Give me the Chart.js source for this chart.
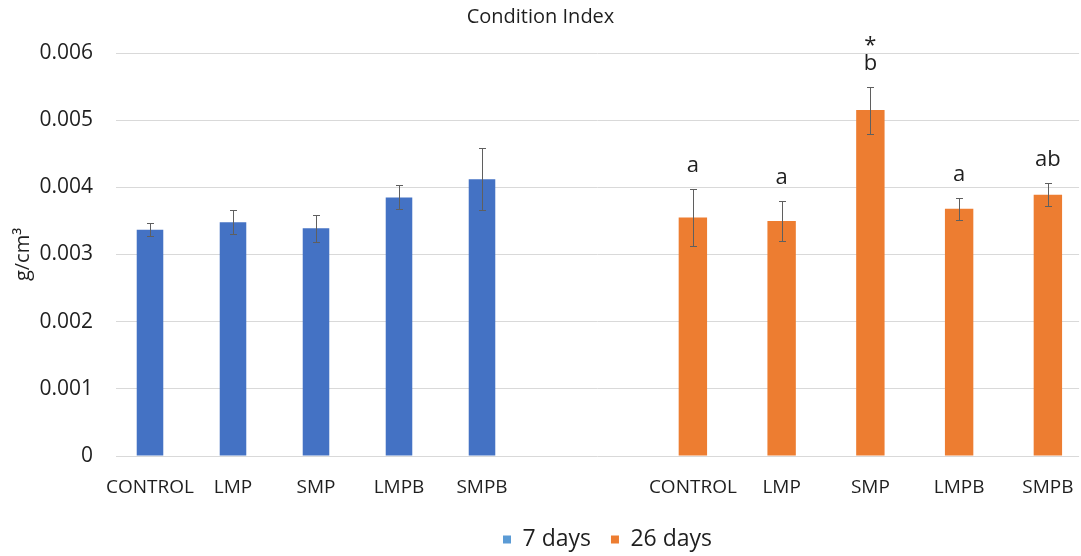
<!DOCTYPE html>
<html>
<head>
<meta charset="utf-8">
<title>Condition Index</title>
<script src="https://cdn.jsdelivr.net/npm/chart.js@4.4.1/dist/chart.umd.min.js"></script>
<style>
  html, body { margin: 0; padding: 0; background: #fff; }
  #wrap { width: 1081px; height: 556px; }
</style>
</head>
<body>
<div id="wrap"><canvas id="myChart"></canvas></div>
<script>
'use strict';

const treatments = ['CONTROL', 'LMP', 'SMP', 'LMPB', 'SMPB'];

const days7 = [0.00337, 0.00348, 0.00339, 0.00385, 0.00412];
const days7Err = [0.00010, 0.00018, 0.00020, 0.00018, 0.00046];

const days26 = [0.00355, 0.00350, 0.00515, 0.00368, 0.00389];
const days26Err = [0.00043, 0.00030, 0.00035, 0.00016, 0.00017];
const days26Letters = [['a'], ['a'], ['*', 'b'], ['a'], ['ab']];

const yTicks = [0, 0.001, 0.002, 0.003, 0.004, 0.005, 0.006];

const FONT = "'Open Sans', sans-serif";
const TEXT = '#1f1f1f';

// each group sits on its own category axis, the 26-day one leaves a gap slot
const blanks = (n) => Array(n).fill('');
const nulls = (n) => Array(n).fill(null);

const labels7 = treatments.concat(blanks(7));
const labels26 = blanks(6).concat(treatments);

// category widths of the two groups (the 7-day group is packed tighter)
const SLOT7 = 83;
const SLOT26 = 88.75;

// both x axes share one label row; stretch each to its own category width
const groupAxes = {
  id: 'groupAxes',
  afterLayout(chart) {
    const left = chart.chartArea.left;
    const fit = (s, start, slot) => {
      s.left = start;
      s.right = start + slot * s.getLabels().length;
      s.width = s.right - s.left;
      s.bottom = s.top + 60;
      s.height = 60;
      s.configure();
    };
    fit(chart.scales.x7, left - 7.5, SLOT7);
    fit(chart.scales.x, left, SLOT26);
    // legend sits a little right of centre and low
    const lg = chart.legend;
    lg.left += 10;
    lg.right += 10;
    lg.top += 4;
    lg.bottom += 4;
  }
};

// whiskers plus the significance letters above them
const errorBars = {
  id: 'errorBars',
  afterDatasetsDraw(chart) {
    const ctx = chart.ctx;
    const yScale = chart.scales.y;
    ctx.save();
    chart.data.datasets.forEach((ds, di) => {
      const meta = chart.getDatasetMeta(di);
      meta.data.forEach((bar, i) => {
        const v = ds.data[i];
        if (v == null) return;
        const e = ds.errors[i];
        const top = Math.round(yScale.getPixelForValue(v + e)) + 0.5;
        const bot = Math.round(yScale.getPixelForValue(v - e)) + 0.5;
        const x = Math.round(bar.x) + 0.5;
        ctx.strokeStyle = '#5f5f5f';
        ctx.lineWidth = 1;
        ctx.beginPath();
        ctx.moveTo(x, top); ctx.lineTo(x, bot);
        ctx.moveTo(x - 3.5, top); ctx.lineTo(x + 3.5, top);
        ctx.moveTo(x - 3.5, bot); ctx.lineTo(x + 3.5, bot);
        ctx.stroke();

        const letters = ds.letters && ds.letters[i];
        if (letters) {
          ctx.fillStyle = TEXT;
          ctx.font = '22px ' + FONT;
          ctx.textAlign = 'center';
          ctx.textBaseline = 'alphabetic';
          let y = top - 18;
          for (let k = letters.length - 1; k >= 0; k--) {
            ctx.fillText(letters[k], bar.x, y + (letters[k] === '*' ? 4 : 0));
            y -= 22;
          }
        }
      });
    });
    ctx.restore();
  }
};

const legendColors = ['#5b9bd5', '#ed7d31'];

const xTicks = {
  autoSkip: false, maxRotation: 0, minRotation: 0, padding: 20,
  color: TEXT, font: { family: FONT, size: 19 },
};

new Chart(document.getElementById('myChart'), {
  type: 'bar',
  data: {
    datasets: [
      {
        label: '7 days',
        data: days7.concat(nulls(7)),
        errors: days7Err.concat(nulls(7)),
        xAxisID: 'x7',
        grouped: false,
        backgroundColor: '#4472c4',
        barPercentage: 0.32,
        categoryPercentage: 1,
      },
      {
        label: '26 days',
        data: nulls(6).concat(days26),
        errors: nulls(6).concat(days26Err),
        letters: nulls(6).concat(days26Letters),
        xAxisID: 'x',
        grouped: false,
        backgroundColor: '#ed7d31',
        barPercentage: 0.32,
        categoryPercentage: 1,
      },
    ],
  },
  options: {
    responsive: true,
    maintainAspectRatio: false,
    animation: false,
    layout: { padding: { left: -12, right: -12, top: 0, bottom: 0 } },
    plugins: {
      title: {
        display: true,
        text: 'Condition Index',
        color: TEXT,
        font: { family: FONT, size: 20, weight: 'normal' },
        padding: { top: 5, bottom: 24 },
      },
      legend: {
        position: 'bottom',
        fullSize: false,
        maxHeight: 52,
        labels: {
          color: TEXT,
          font: { family: FONT, size: 23 },
          boxWidth: 8,
          boxHeight: 8,
          padding: 20,
          generateLabels(chart) {
            return Chart.defaults.plugins.legend.labels.generateLabels(chart).map((item, i) => {
              item.fillStyle = legendColors[i];
              item.strokeStyle = legendColors[i];
              item.lineWidth = 0;
              return item;
            });
          },
        },
      },
      tooltip: { enabled: false },
    },
    scales: {
      x7: {
        axis: 'x',
        type: 'category',
        labels: labels7,
        position: 'bottom',
        weight: 0,
        afterFit(axis) { axis.height = 0; },
        grid: { display: false, drawTicks: false },
        border: { display: false },
        ticks: xTicks,
      },
      x: {
        type: 'category',
        labels: labels26,
        position: 'bottom',
        weight: 1,
        afterFit(axis) { axis.height = 48; },
        grid: { display: false, drawTicks: false },
        border: { display: false },
        ticks: xTicks,
      },
      y: {
        min: 0,
        max: 0.006,
        afterFit(axis) { axis.width = 128; },
        afterBuildTicks(axis) { axis.ticks = yTicks.map((v) => ({ value: v })); },
        grid: { color: '#d9d9d9', drawTicks: false },
        border: { display: false },
        ticks: {
          padding: 23,
          color: TEXT,
          font: { family: FONT, size: 21 },
          callback: (value) => (value === 0 ? '0' : value.toFixed(3)),
        },
        title: {
          display: true,
          text: 'g/cm³',
          color: TEXT,
          font: { family: FONT, size: 20 },
          padding: { top: 23, bottom: 0 },
        },
      },
    },
  },
  plugins: [groupAxes, errorBars],
});
</script>
</body>
</html>
